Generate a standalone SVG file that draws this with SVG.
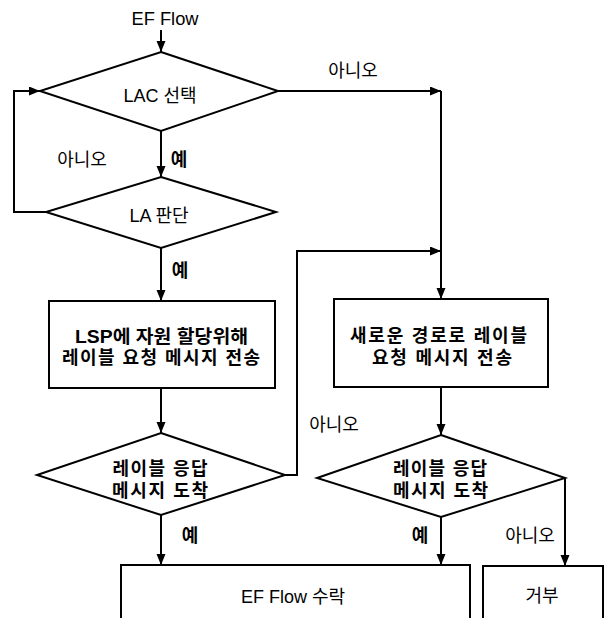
<svg xmlns="http://www.w3.org/2000/svg" width="606" height="618" viewBox="0 0 606 618">
<defs>
<marker id="arr" markerUnits="userSpaceOnUse" markerWidth="12" markerHeight="10" refX="11" refY="4.5" orient="auto">
<path d="M0,0 L11,4.5 L0,9 z" fill="#000"/>
</marker>
<style>
.shape{fill:#fff;stroke:#000;stroke-width:2}
.arrow{fill:none;stroke:#000;stroke-width:2;marker-end:url(#arr)}
text{font-family:"Liberation Sans","Noto Sans CJK KR",sans-serif;font-size:18px;fill:#000;text-anchor:middle}
.b{font-weight:bold}
</style>
</defs>
<rect width="606" height="618" fill="#fff"/>

<g id="connectors">
<path class="arrow" d="M161,30 L161,52"/>
<path class="arrow" d="M161,131 L161,177"/>
<path class="arrow" d="M46,212 L14,212 L14,91 L40,91"/>
<path class="arrow" d="M278,91 L441,91"/>
<path class="arrow" d="M441,91 L441,299"/>
<path class="arrow" d="M161,248 L161,301"/>
<path class="arrow" d="M161,388 L161,433"/>
<path class="arrow" d="M285,475 L297,475 L297,251 L441,251"/>
<path class="arrow" d="M441,387 L441,435"/>
<path class="arrow" d="M161,515 L161,565"/>
<path class="arrow" d="M441,517 L441,565"/>
<path class="arrow" d="M565,478 L565,566"/>
<text x="82" y="166">아니오</text>
<text x="179" y="166" class="b">예</text>
<text x="353" y="77">아니오</text>
<text x="180" y="277" class="b">예</text>
<text x="334" y="431">아니오</text>
<text x="190" y="542" class="b">예</text>
<text x="420" y="542" class="b">예</text>
<text x="530" y="542">아니오</text>
</g>

<g id="start">
<text x="165" y="25" textLength="67" lengthAdjust="spacingAndGlyphs">EF Flow</text>
</g>

<g id="lac">
<polygon class="shape" points="161,52 278,91 161,131 40,91"/>
<text x="160" y="102">LAC 선택</text>
</g>

<g id="la">
<polygon class="shape" points="161,177 276,212 161,248 46,212"/>
<text x="159" y="222">LA 판단</text>
</g>

<g id="lsp">
<rect class="shape" x="49" y="301" width="226" height="87"/>
<text x="161.5" y="343" class="b" textLength="173" lengthAdjust="spacingAndGlyphs">LSP에 자원 할당위해</text>
<text x="161" y="364" class="b" textLength="198" lengthAdjust="spacing">레이블 요청 메시지 전송</text>
</g>

<g id="newpath">
<rect class="shape" x="334" y="299" width="214" height="88"/>
<text x="438.5" y="342" class="b" textLength="177" lengthAdjust="spacing">새로운 경로로 레이블</text>
<text x="442" y="364" class="b" textLength="140" lengthAdjust="spacing">요청 메시지 전송</text>
</g>

<g id="resp1">
<polygon class="shape" points="161,433 285,475 161,515 37,475"/>
<text x="160" y="475" class="b" textLength="95" lengthAdjust="spacing">레이블 응답</text>
<text x="160" y="497" class="b" textLength="96" lengthAdjust="spacing">메시지 도착</text>
</g>

<g id="resp2">
<polygon class="shape" points="441,435 565,478 441,517 317,478"/>
<text x="440" y="475" class="b" textLength="94" lengthAdjust="spacing">레이블 응답</text>
<text x="440.5" y="497" class="b" textLength="95" lengthAdjust="spacing">메시지 도착</text>
</g>

<g id="accept">
<rect class="shape" x="121" y="565" width="349" height="80"/>
<text x="293" y="603">EF Flow 수락</text>
</g>

<g id="reject">
<rect class="shape" x="483" y="566" width="120" height="80"/>
<text x="542" y="602">거부</text>
</g>
</svg>
